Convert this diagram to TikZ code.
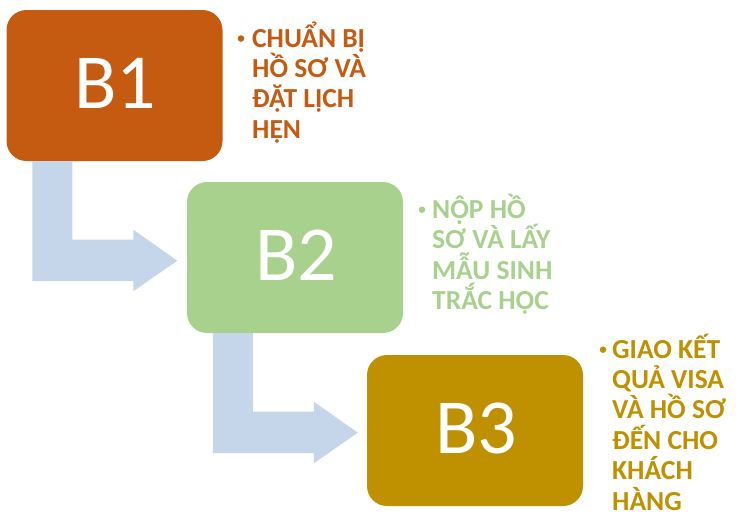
\documentclass[tikz,border=0pt]{standalone}
\usepackage{fontspec}
\setmainfont{Carlito}
\usetikzlibrary{calc}
\definecolor{cone}{RGB}{197,90,17}
\definecolor{ctwo}{RGB}{169,209,142}
\definecolor{cthree}{RGB}{191,144,0}
\definecolor{carrow}{RGB}{197,213,234}
% Carlito Bold draws U+1ED8 without its circumflex: build it from Ô plus a dot below
\newcommand{\OcircDot}{\makebox[0pt][l]{\makebox[\fontcharwd\font`O][c]{\raisebox{-0.21em}{.}}}Ô}
\newcommand{\mybentarrow}[1]{%
  \fill[carrow] ($(#1.south west)+(26,0)$) -- ($(#1.south west)+(66,0)$)
    -- ($(#1.south west)+(66,78.5)$) -- ($(#1.south west)+(127,78.5)$)
    -- ($(#1.south west)+(127,68.5)$) -- ($(#1.south west)+(171,99.5)$)
    -- ($(#1.south west)+(127,130)$) -- ($(#1.south west)+(127,120)$)
    -- ($(#1.south west)+(26,120)$) -- cycle;}
\begin{document}
\begin{tikzpicture}[x=1pt,y=-1pt,
  stepbox/.style={rectangle, rounded corners=20pt, minimum width=216pt,
    minimum height=151pt, inner sep=0pt},
  bigtext/.style={text=white, inner sep=0pt, anchor=base,
    font=\fontsize{78}{78}\selectfont},
  desc/.style={anchor=base west, align=left, inner sep=0pt,
    font=\fontsize{27.5}{30.4}\selectfont\bfseries},
  dot/.style={circle, inner sep=0pt, minimum size=6.5pt}]
\useasboundingbox (0,0) rectangle (745,525);
% boxes
\node[stepbox, fill=cone] (b1) at (114.5,85.5) {};
\node[stepbox, fill=ctwo] (b2) at (295,257.5) {};
\node[stepbox, fill=cthree] (b3) at (475,430.5) {};
\node[bigtext] (l1) at (115.5,108.3) {B1};
\node[bigtext] (l2) at (296,280) {B2};
\node[bigtext] (l3) at (476,453) {B3};
% arrows
\mybentarrow{b1}
\mybentarrow{b2}
% descriptions (anchor = baseline of the last line)
\node[dot, fill=cone] (d1) at (241,38.5) {};
\node[desc, text=cone] (t1) at (252,138.2) {CHUẨN BỊ\\HỒ SƠ VÀ\\ĐẶT LỊCH\\HẸN};
\node[dot, fill=ctwo] (d2) at (422,209.7) {};
\node[desc, text=ctwo] (t2) at (432,309.5) {N\OcircDot P HỒ\\SƠ VÀ LẤY\\MẪU SINH\\TRẮC HỌC};
\node[dot, fill=cthree] (d3) at (603,349.7) {};
\node[desc, text=cthree] (t3) at (612,510) {GIAO KẾT\\QUẢ VISA\\VÀ HỒ SƠ\\ĐẾN CHO\\KHÁCH\\HÀNG};
\end{tikzpicture}
\end{document}
